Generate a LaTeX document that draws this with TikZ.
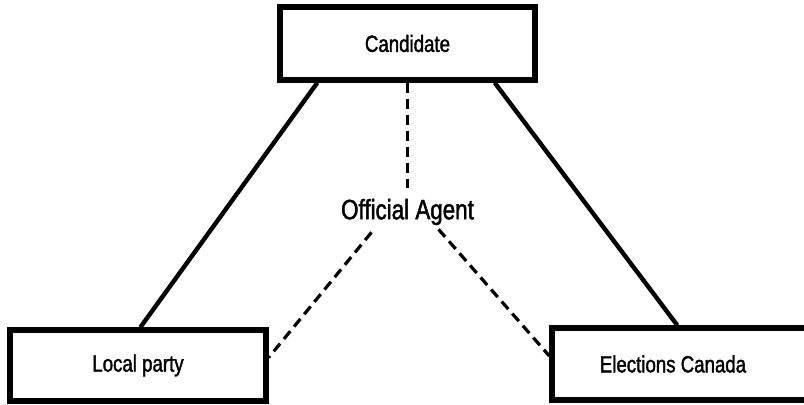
\documentclass[tikz,border=0pt]{standalone}
\usepackage{fontspec}
\setmainfont{Liberation Sans}[FakeStretch=0.8,FakeBold=1.6]
\usetikzlibrary{calc}

\tikzset{
  partybox/.style={draw, line width=4pt, inner sep=0pt, font=\fontsize{17.5}{20}\selectfont},
  tie/.style={line width=3.3pt},
  agentlink/.style={line width=2.4pt, dash pattern=on 7.5pt off 4.5pt}
}

\begin{document}
\begin{tikzpicture}[x=0.75pt,y=0.75pt,yscale=-1,xscale=1]
\useasboundingbox (0,0) rectangle (804,404);

%Shape: Rectangle [Candidate]
\node [partybox, minimum width=255*0.75pt, minimum height=73*0.75pt] (cand) at (407.5,43.5) {Candidate};
%Shape: Rectangle [Local party]
\node [partybox, minimum width=256*0.75pt, minimum height=71*0.75pt] (local) at (138,365.5) {Local party};
%Shape: Rectangle [Elections Canada]
\node [partybox, minimum width=258*0.75pt, minimum height=72*0.75pt] (elec) at (681,364) {\hspace*{-12pt}Elections Canada};

% Text Node
\node [font=\fontsize{21}{24}\selectfont, inner sep=0pt] (agent) at (407.5,212) {Official Agent};

%Straight Lines
\draw [tie] ($(cand.south west)+(40,0)$) -- ($(local.north west)+(133,0)$);
\draw [tie] ($(cand.south east)+(-43,0)$) -- ($(elec.north west)+(128,0)$);

%Dashed Lines
\draw [agentlink] (cand.south) -- ($(agent.north)+(0,-11)$);
\draw [agentlink] ($(agent.south)+(-36,7)$) -- ($(local.east)+(0,-8)$);
\draw [agentlink] ($(agent.south)+(31,4)$) -- ($(elec.west)+(0,-8)$);

\end{tikzpicture}
\end{document}
